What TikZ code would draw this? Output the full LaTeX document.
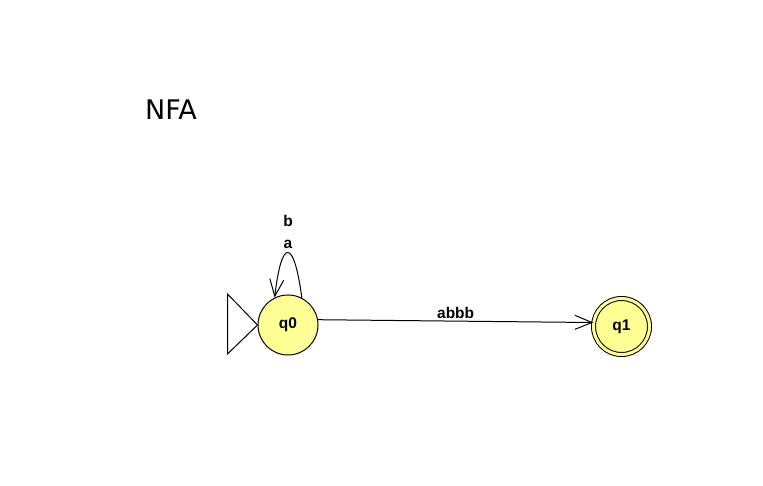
\documentclass[tikz,border=0pt]{standalone}
\usepackage{fontspec}
\setmainfont{Liberation Sans}
\newfontfamily\titlefont{DejaVu Sans}
\usetikzlibrary{arrows.meta}
\definecolor{stateYellow}{RGB}{255,255,150}
\begin{document}
\begin{tikzpicture}
[x=1pt,y=1pt,line width=1pt,%
  lineDecorate/.style={-{Straight Barb[length=17pt,width=14pt,line width=1pt]}},%
  nodeDecorate/.style={shape=circle,draw,fill=stateYellow,minimum size=60pt,inner sep=0pt,font=\bfseries\fontsize{15.5}{17}\selectfont},%
  finalDecorate/.style={double=stateYellow,double distance=3pt,minimum size=56pt},%
  labelDecorate/.style={font=\bfseries\fontsize{15.5}{17}\selectfont}]
\useasboundingbox (0,0) rectangle (763,485);
%% title
\node (title) at (171,375) [font=\titlefont\fontsize{27}{30}\selectfont] {NFA};
%% nodes or vertices
\foreach \nodename/\x/\y/\extra in {
  q0/288/160/{}, q1/621.5/158.5/finalDecorate}
{
  \node (\nodename) at (\x,\y) [nodeDecorate,\extra] {\nodename};
}
%% initial marker
\draw (q0.west) -- ++(-30,31) -- ++(0,-60) -- cycle;
%% edges or lines
\draw[lineDecorate] (q0.10) -- node[above,labelDecorate,inner sep=2pt] (lab) {abbb} (q1.172);
\draw[lineDecorate] (q0.63) .. controls +(-8,60) and +(7,60) .. (q0.116);
\node (loopA) at (288,241) [labelDecorate] {a};
\node (loopB) at (288,264) [labelDecorate] {b};
\end{tikzpicture}
\end{document}
